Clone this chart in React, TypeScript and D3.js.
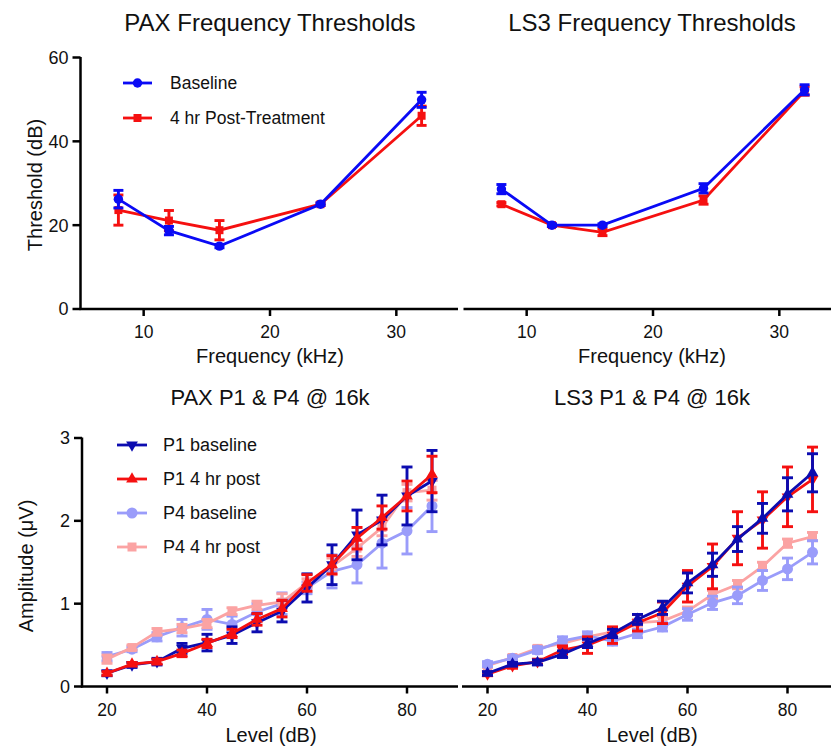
import React from "react";
import * as d3 from "d3";

// ---------- DATA ----------
const freqs = [8, 12, 16, 24, 32];
const paxBaseline = [26.2, 18.7, 15.0, 25.0, 49.9];
const paxBaselineErr = [2.1, 1.0, 0.4, 0.3, 1.8];
const paxPost = [23.6, 21.1, 18.8, 25.0, 46.1];
const paxPostErr = [3.6, 2.4, 2.3, 0.3, 2.3];
const ls3Baseline = [28.6, 20.0, 20.0, 28.8, 52.3];
const ls3BaselineErr = [1.1, 0.3, 0.3, 1.1, 1.2];
const ls3Post = [25.0, 20.0, 18.3, 26.0, 52.0];
const ls3PostErr = [0.4, 0.3, 0.8, 1.0, 1.0];

const levels = [20, 25, 30, 35, 40, 45, 50, 55, 60, 65, 70, 75, 80, 85];
const paxP1Base = [0.16, 0.26, 0.30, 0.46, 0.53, 0.62, 0.77, 0.91, 1.19, 1.47, 1.83, 2.01, 2.30, 2.48];
const paxP1BaseErr = [0.03, 0.03, 0.04, 0.06, 0.10, 0.10, 0.11, 0.13, 0.17, 0.24, 0.30, 0.30, 0.35, 0.37];
const paxP1Post = [0.16, 0.27, 0.30, 0.40, 0.52, 0.64, 0.81, 0.94, 1.25, 1.47, 1.79, 2.04, 2.30, 2.56];
const paxP1PostErr = [0.02, 0.02, 0.03, 0.04, 0.05, 0.05, 0.07, 0.10, 0.10, 0.11, 0.13, 0.14, 0.18, 0.22];
const paxP4Base = [0.36, 0.45, 0.60, 0.71, 0.81, 0.75, 0.90, 1.00, 1.19, 1.39, 1.47, 1.73, 1.88, 2.18];
const paxP4BaseErr = [0.05, 0.03, 0.05, 0.10, 0.12, 0.10, 0.10, 0.13, 0.07, 0.20, 0.22, 0.30, 0.28, 0.31];
const paxP4Post = [0.33, 0.47, 0.66, 0.70, 0.76, 0.91, 0.98, 1.02, 1.25, 1.45, 1.67, 1.92, 2.34, 2.37];
const paxP4PostErr = [0.05, 0.03, 0.04, 0.05, 0.05, 0.04, 0.05, 0.10, 0.05, 0.10, 0.10, 0.10, 0.10, 0.12];

const ls3P1Base = [0.16, 0.27, 0.29, 0.39, 0.52, 0.64, 0.81, 0.95, 1.25, 1.47, 1.78, 2.03, 2.32, 2.58];
const ls3P1BaseErr = [0.02, 0.02, 0.03, 0.04, 0.05, 0.05, 0.06, 0.08, 0.12, 0.14, 0.15, 0.18, 0.20, 0.23];
const ls3P1Post = [0.15, 0.25, 0.30, 0.44, 0.50, 0.62, 0.77, 0.89, 1.21, 1.45, 1.79, 2.01, 2.29, 2.50];
const ls3P1PostErr = [0.02, 0.03, 0.03, 0.05, 0.10, 0.10, 0.10, 0.13, 0.19, 0.27, 0.32, 0.34, 0.36, 0.39];
const ls3P4Base = [0.27, 0.34, 0.44, 0.55, 0.61, 0.55, 0.64, 0.72, 0.87, 1.01, 1.10, 1.28, 1.42, 1.62];
const ls3P4BaseErr = [0.03, 0.03, 0.04, 0.05, 0.05, 0.05, 0.05, 0.05, 0.07, 0.08, 0.10, 0.12, 0.13, 0.14];
const ls3P4Post = [0.25, 0.35, 0.46, 0.52, 0.60, 0.66, 0.77, 0.79, 0.91, 1.11, 1.23, 1.45, 1.73, 1.81];
const ls3P4PostErr = [0.02, 0.03, 0.03, 0.03, 0.04, 0.04, 0.04, 0.05, 0.05, 0.05, 0.05, 0.05, 0.05, 0.05];

const freqTicks = [10, 20, 30];
const thrTicks = [0, 20, 40, 60];
const levelTicks = [20, 40, 60, 80];
const ampTicks = [0, 1, 2, 3];

const topLegend = ["Baseline", "4 hr Post-Treatment"];
const bottomLegend = ["P1 baseline", "P1 4 hr post", "P4 baseline", "P4 4 hr post"];

// ---------- STYLE ----------
const FONT = "'Liberation Sans', Arial, Helvetica, sans-serif";
const BLUE = "#0a0af5";
const RED = "#f51010";
const DBLUE = "#0c0cb0";
const LBLUE = "#9a9cfa";
const PINK = "#fba3a3";

type Shape = "circle" | "square" | "tri" | "tridown";

function symbolPath(shape: Shape, size: number) {
  const t = shape === "circle" ? d3.symbolCircle : shape === "square" ? d3.symbolSquare : d3.symbolTriangle;
  return d3.symbol().type(t).size(size)() as string;
}

interface Series {
  x: number[];
  y: number[];
  err: number[];
  color: string;
  shape: Shape;
  size: number;
}

function SeriesMarks({ s, xs, ys, cap }: { s: Series; xs: any; ys: any; cap: number }) {
  const line = d3
    .line<number>()
    .x((_, i) => xs(s.x[i]))
    .y((d) => ys(d));
  const sym = symbolPath(s.shape, s.size);
  return (
    <g>
      {s.y.map((v, i) => {
        const cx = xs(s.x[i]);
        const y1 = ys(v + s.err[i]);
        const y2 = ys(v - s.err[i]);
        return (
          <g key={"e" + i} stroke={s.color} strokeWidth={2.9}>
            <line x1={cx} x2={cx} y1={y1} y2={y2} />
            <line x1={cx - cap} x2={cx + cap} y1={y1} y2={y1} />
            <line x1={cx - cap} x2={cx + cap} y1={y2} y2={y2} />
          </g>
        );
      })}
      <path d={line(s.y) as string} fill="none" stroke={s.color} strokeWidth={2.8} />
      {s.y.map((v, i) => (
        <path
          key={"m" + i}
          d={sym}
          fill={s.color}
          transform={`translate(${xs(s.x[i])},${ys(v)})${s.shape === "tridown" ? " rotate(180)" : ""}`}
        />
      ))}
    </g>
  );
}

function XAxis({ xs, y, ticks, x0, x1, labelY }: any) {
  return (
    <g>
      <line x1={x0} x2={x1} y1={y} y2={y} stroke="#000" strokeWidth={2.5} />
      {ticks.map((t: number) => (
        <g key={t}>
          <line x1={xs(t)} x2={xs(t)} y1={y} y2={y + 7} stroke="#000" strokeWidth={2.5} />
          <text x={xs(t)} y={labelY} textAnchor="middle" fontSize={17.5} fontFamily={FONT} fill="#111">
            {t}
          </text>
        </g>
      ))}
    </g>
  );
}

function YAxis({ ys, x, ticks, y0, y1 }: any) {
  return (
    <g>
      <line x1={x} x2={x} y1={y0} y2={y1} stroke="#000" strokeWidth={2.5} />
      {ticks.map((t: number) => (
        <g key={t}>
          <line x1={x - 8} x2={x} y1={ys(t)} y2={ys(t)} stroke="#000" strokeWidth={2.5} />
          <text x={x - 12} y={ys(t)} dy="0.36em" textAnchor="end" fontSize={18} fontFamily={FONT} fill="#111">
            {t}
          </text>
        </g>
      ))}
    </g>
  );
}

export default function App() {
  // Top scales
  const xTL = d3.scaleLinear().domain([5, 35]).range([80.5, 459.5]);
  const xTR = d3.scaleLinear().domain([5, 35]).range([463.5, 842.5]);
  const yT = d3.scaleLinear().domain([0, 60]).range([309, 57.5]);
  // Bottom scales
  const xBL = d3.scaleLinear().domain([15, 90]).range([82, 457]);
  const xBR = d3.scaleLinear().domain([15, 90]).range([462.5, 837.5]);
  const yB = d3.scaleLinear().domain([0, 3]).range([686.5, 438]);

  const paxTop: Series[] = [
    { x: freqs, y: paxPost, err: paxPostErr, color: RED, shape: "square", size: 64 },
    { x: freqs, y: paxBaseline, err: paxBaselineErr, color: BLUE, shape: "circle", size: 70 },
  ];
  const ls3Top: Series[] = [
    { x: freqs, y: ls3Post, err: ls3PostErr, color: RED, shape: "square", size: 64 },
    { x: freqs, y: ls3Baseline, err: ls3BaselineErr, color: BLUE, shape: "circle", size: 70 },
  ];
  const paxBottom: Series[] = [
    { x: levels, y: paxP4Base, err: paxP4BaseErr, color: LBLUE, shape: "circle", size: 95 },
    { x: levels, y: paxP4Post, err: paxP4PostErr, color: PINK, shape: "square", size: 81 },
    { x: levels, y: paxP1Base, err: paxP1BaseErr, color: DBLUE, shape: "tridown", size: 60 },
    { x: levels, y: paxP1Post, err: paxP1PostErr, color: RED, shape: "tri", size: 60 },
  ];
  const ls3Bottom: Series[] = [
    { x: levels, y: ls3P4Post, err: ls3P4PostErr, color: PINK, shape: "square", size: 81 },
    { x: levels, y: ls3P4Base, err: ls3P4BaseErr, color: LBLUE, shape: "circle", size: 95 },
    { x: levels, y: ls3P1Post, err: ls3P1PostErr, color: RED, shape: "tridown", size: 60 },
    { x: levels, y: ls3P1Base, err: ls3P1BaseErr, color: DBLUE, shape: "tri", size: 60 },
  ];

  const topLegendItems = [
    { label: topLegend[0], color: BLUE, shape: "circle" as Shape, size: 70 },
    { label: topLegend[1], color: RED, shape: "square" as Shape, size: 64 },
  ];
  const bottomLegendItems = [
    { label: bottomLegend[0], color: DBLUE, shape: "tridown" as Shape, size: 60 },
    { label: bottomLegend[1], color: RED, shape: "tri" as Shape, size: 60 },
    { label: bottomLegend[2], color: LBLUE, shape: "circle" as Shape, size: 95 },
    { label: bottomLegend[3], color: PINK, shape: "square" as Shape, size: 81 },
  ];

  const titleProps = { fontFamily: FONT, fill: "#111", textAnchor: "middle" as const };

  return (
    <svg
      width={831}
      height={750}
      style={{ position: "absolute", left: 0, top: 0, background: "#fff" }}
      fontFamily={FONT}
    >
      <rect width={831} height={750} fill="#fff" />
      {/* Titles */}
      <text x={270} y={31} fontSize={24} {...titleProps}>PAX Frequency Thresholds</text>
      <text x={652} y={31} fontSize={24} {...titleProps}>LS3 Frequency Thresholds</text>
      <text x={270} y={405} fontSize={22} {...titleProps}>PAX P1 &amp; P4 @ 16k</text>
      <text x={652} y={405} fontSize={22} {...titleProps}>LS3 P1 &amp; P4 @ 16k</text>

      {/* Axis titles */}
      <text transform="translate(42,185) rotate(-90)" fontSize={20} {...titleProps}>Threshold (dB)</text>
      <text transform="translate(33,566) rotate(-90)" fontSize={20} {...titleProps}>Amplitude (μV)</text>
      <text x={270} y={363} fontSize={20} {...titleProps}>Frequency (kHz)</text>
      <text x={652} y={363} fontSize={20} {...titleProps}>Frequency (kHz)</text>
      <text x={271} y={742} fontSize={20} {...titleProps}>Level (dB)</text>
      <text x={652} y={742} fontSize={20} {...titleProps}>Level (dB)</text>

      {/* Top axes */}
      <YAxis ys={yT} x={80.5} ticks={thrTicks} y0={57} y1={310} />
      <XAxis xs={xTL} y={309} ticks={freqTicks} x0={79.5} x1={458} labelY={338} />
      <XAxis xs={xTR} y={309} ticks={freqTicks} x0={463.5} x1={842} labelY={338} />

      {/* Bottom axes */}
      <YAxis ys={yB} x={82} ticks={ampTicks} y0={437.5} y1={687.5} />
      <XAxis xs={xBL} y={686.5} ticks={levelTicks} x0={81} x1={458} labelY={716} />
      <XAxis xs={xBR} y={686.5} ticks={levelTicks} x0={462} x1={840} labelY={716} />

      {/* Data */}
      {paxTop.map((s, i) => <SeriesMarks key={"pt" + i} s={s} xs={xTL} ys={yT} cap={5} />)}
      {ls3Top.map((s, i) => <SeriesMarks key={"lt" + i} s={s} xs={xTR} ys={yT} cap={5} />)}
      {paxBottom.map((s, i) => <SeriesMarks key={"pb" + i} s={s} xs={xBL} ys={yB} cap={5.5} />)}
      {ls3Bottom.map((s, i) => <SeriesMarks key={"lb" + i} s={s} xs={xBR} ys={yB} cap={5.5} />)}

      {/* Legends */}
      {topLegendItems.map((it, i) => {
        const y = 83 + i * 35;
        return (
          <g key={"tl" + i}>
            <line x1={123} x2={152} y1={y} y2={y} stroke={it.color} strokeWidth={2.8} />
            <path d={symbolPath(it.shape, it.size)} fill={it.color} transform={`translate(137.5,${y})`} />
            <text x={170} y={y} dy="0.36em" fontSize={17.5} fontFamily={FONT} fill="#111">{it.label}</text>
          </g>
        );
      })}
      {bottomLegendItems.map((it, i) => {
        const y = 445 + i * 34;
        return (
          <g key={"bl" + i}>
            <line x1={117} x2={147} y1={y} y2={y} stroke={it.color} strokeWidth={2.8} />
            <path
              d={symbolPath(it.shape, it.size)}
              fill={it.color}
              transform={`translate(132,${y})${it.shape === "tridown" ? " rotate(180)" : ""}`}
            />
            <text x={163} y={y} dy="0.36em" fontSize={18} fontFamily={FONT} fill="#111">{it.label}</text>
          </g>
        );
      })}
    </svg>
  );
}
